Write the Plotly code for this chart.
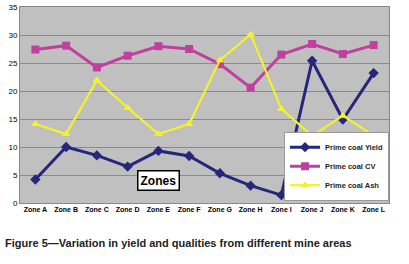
import plotly.graph_objects as go

zones = ["Zone A", "Zone B", "Zone C", "Zone D", "Zone E", "Zone F",
         "Zone G", "Zone H", "Zone I", "Zone J", "Zone K", "Zone L"]
yield_vals = [4.2, 10.0, 8.5, 6.5, 9.3, 8.4, 5.3, 3.1, 1.4, 25.4, 14.9, 23.2]
cv_vals = [27.4, 28.1, 24.2, 26.3, 28.0, 27.5, 24.8, 20.6, 26.5, 28.4, 26.6, 28.2]
ash_vals = [14.1, 12.3, 21.9, 17.0, 12.3, 14.1, 25.5, 30.1, 16.8, 12.0, 15.6, 12.0]
yticks = [0, 5, 10, 15, 20, 25, 30, 35]

fig = go.Figure()
fig.add_trace(go.Scatter(x=zones, y=yield_vals, name="<b>Prime coal Yield</b>", mode="lines+markers",
                         line=dict(color="#26267a", width=3),
                         marker=dict(symbol="diamond", size=8, color="#26267a")))
fig.add_trace(go.Scatter(x=zones, y=cv_vals, name="<b>Prime coal CV</b>", mode="lines+markers",
                         line=dict(color="#c040a0", width=3),
                         marker=dict(symbol="square", size=8, color="#c040a0")))
fig.add_trace(go.Scatter(x=zones, y=ash_vals, name="<b>Prime coal Ash</b>", mode="lines+markers",
                         line=dict(color="#f4f22a", width=2.2),
                         marker=dict(symbol="triangle-up", size=8, color="#f4f22a")))

fig.update_layout(
    width=409, height=264,
    margin=dict(l=20, r=20, t=7, b=61, autoexpand=False),
    paper_bgcolor="white", plot_bgcolor="#c0c0c0",
    font=dict(family="Liberation Sans, Arial", color="black"),
    showlegend=True,
    legend=dict(x=1.0, y=0.012, xanchor="right", yanchor="bottom",
                bgcolor="white", bordercolor="#999999", borderwidth=1,
                font=dict(size=7.5, family="Liberation Sans, Arial", color="#222222"),
                itemwidth=30, tracegroupgap=0),
    xaxis=dict(showgrid=False, tickfont=dict(size=7, family="Liberation Sans, Arial Black"),
               ticks="", showline=True, linecolor="#888888", mirror=True,
               range=[-0.5, 11.5], tickangle=0),
    yaxis=dict(range=[0, 35], tickvals=yticks, gridcolor="#8a8a8a", gridwidth=1,
               tickfont=dict(size=8, family="Liberation Sans"), ticks="",
               showline=True, linecolor="#888888", mirror=True, zeroline=False),
    annotations=[
        dict(text="<b>Zones</b>", xref="paper", yref="paper", x=0.375, y=0.06,
             xanchor="center", yanchor="bottom", showarrow=False,
             font=dict(size=12, color="black", family="Liberation Sans"),
             bgcolor="white", bordercolor="black", borderwidth=1.5, borderpad=2),
        dict(text="<b>Figure 5—Variation in yield and qualities from different mine areas</b>",
             xref="paper", yref="paper", x=-0.047, y=-0.165, xanchor="left", yanchor="top",
             showarrow=False, font=dict(size=11, color="#222222", family="Liberation Sans")),
    ],
)
fig.update_xaxes(tickprefix="<b>", ticksuffix="</b>")
fig.update_yaxes(tickprefix="<b>", ticksuffix="</b>")
fig.write_html("out.html", config={"displayModeBar": False},
               post_script="document.body.style.margin='0';")
